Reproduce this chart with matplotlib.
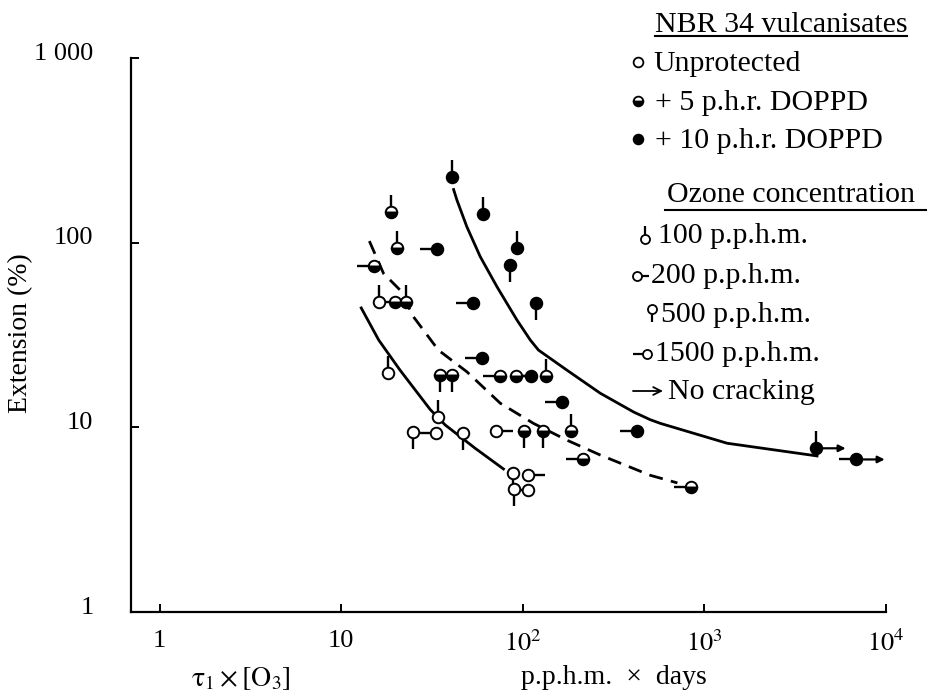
import numpy as np
import matplotlib.pyplot as plt
from matplotlib.path import Path
from matplotlib.markers import MarkerStyle
from matplotlib.transforms import offset_copy, ScaledTranslation

plt.rcParams['font.family'] = ['Liberation Serif', 'DejaVu Serif']
plt.rcParams['mathtext.fontset'] = 'stix'

# tau_1 x [O3] (p.p.h.m. x days) against extension (%)
pt_x = [40.8, 18.8, 60.4, 20.4, 33.6, 93.0, 15.2, 85.3, 16.1, 19.9,
        22.8, 53.2, 117.7, 59.6, 18.0, 34.8, 40.8, 74.7, 92.0, 111.0,
        134.6, 164.0, 34.1, 24.8, 33.4, 46.8, 71.5, 102.0, 129.0, 184.5,
        426.0, 215.0, 88.3, 107.0, 89.0, 107.0, 847.0, 4140.0, 6790.0]
pt_y = [227, 147, 143, 94, 92, 94, 75, 75.7, 47.5, 47.5,
        47.5, 46.9, 46.9, 23.6, 19.6, 19.2, 19.2, 19.0, 19.0, 19.0,
        19.0, 13.8, 11.4, 9.47, 9.27, 9.27, 9.6, 9.6, 9.6, 9.6,
        9.6, 6.7, 5.63, 5.52, 4.62, 4.58, 4.77, 7.7, 6.7]
# DOPPD content, p.h.r.
pt_phr = [10, 5, 10, 5, 10, 10, 5, 10, 0, 5,
          5, 10, 10, 10, 0, 5, 5, 5, 5, 10,
          5, 10, 0, 0, 0, 0, 0, 5, 5, 5,
          10, 5, 0, 0, 0, 0, 5, 10, 10]
# ozone concentration, p.p.h.m.
pt_ozone = [100, 100, 100, 100, 1500, 100, 1500, 500, 100, 1500,
            100, 1500, 500, 1500, 100, 500, 500, 1500, 200, 1500,
            100, 1500, 100, 500, 1500, 500, 200, 500, 500, 100,
            1500, 1500, 500, 200, 500, 1500, 1500, 100, 1500]
no_crack = [False] * 37 + [True, True]

# fitted curves
unprot_x = [12.9, 16.1, 21.1, 30.9, 37.4, 54.7, 78.3]
unprot_y = [44.3, 29.7, 20.4, 12.5, 10.3, 7.7, 5.95]
phr5_x = [14.3, 17.1, 21.1, 25.0, 34.3, 49.2, 75.2, 114.6, 176, 267, 503, 710]
phr5_y = [102, 68.2, 55.4, 39.7, 26.2, 20.0, 13.5, 10.5, 8.5, 7.08, 5.5, 5.0]
phr10_x = [41.6, 43.4, 49.2, 58.3, 72.1, 92.9, 110, 122, 175, 267, 408,
           503, 573, 1334, 4170]
phr10_y = [194, 170, 122, 84, 57.7, 38.1, 29.7, 26.2, 20.4, 15.3, 12.1,
           11.0, 10.5, 8.2, 7.0]

# tail direction for each ozone level
tail_dir = {100: (0, 1), 200: (1, 0), 500: (0, -1), 1500: (-1, 0)}
tails = {k: MarkerStyle(Path([(0, 0), v])) for k, v in tail_dir.items()}


def draw_point(a, x, y, phr, ozone, size, tail, lw, **kw):
    if tail:
        a.plot(x, y, marker=tails[ozone], ms=tail, mec='black', mfc='none',
               mew=lw + 0.3, ls='none', zorder=3, **kw)
    if phr == 0:
        a.plot(x, y, 'o', ms=size, mec='black', mfc='white', mew=lw,
               zorder=4, **kw)
    elif phr == 5:
        a.plot(x, y, 'o', ms=size, mec='black', mfc='black',
               mfcalt='white', fillstyle='bottom', mew=lw, zorder=4, **kw)
    else:
        a.plot(x, y, 'o', ms=size, mec='black', mfc='black', mew=lw,
               zorder=4, **kw)


fig = plt.figure(figsize=(9.28, 6.92), dpi=100)
ax = fig.add_axes([0.1412, 0.1156, 0.8136, 0.8006])
ax.set_xscale('log')
ax.set_yscale('log')
ax.set_xlim(0.697, 1e4)
ax.set_ylim(1, 1000)

ax.plot(unprot_x, unprot_y, color='black', lw=2.0)
ax.plot(phr5_x, phr5_y, color='black', lw=2.0, ls=(0, (5, 3)))
ax.plot(phr10_x, phr10_y, color='black', lw=2.0)

for x, y, p, o, nc in zip(pt_x, pt_y, pt_phr, pt_ozone, no_crack):
    draw_point(ax, x, y, p, o, 8.3, 24.5, 1.4, clip_on=False)
    if nc:
        ax.annotate('', xy=(x, y),
                    xycoords=offset_copy(ax.transData, fig=fig, x=21, units='points'),
                    xytext=(x, y), textcoords='data',
                    arrowprops=dict(arrowstyle='-|>', color='black', lw=1.6,
                                    mutation_scale=10, shrinkA=0, shrinkB=0))

for s in ['top', 'right']:
    ax.spines[s].set_visible(False)
for s in ['left', 'bottom']:
    ax.spines[s].set_linewidth(1.6)

ax.set_xticks([1, 10, 100, 1000, 10000])
ax.set_xticklabels(['1', '10', r'$10^2$', r'$10^3$', r'$10^4$'])
ax.set_yticks([1, 10, 100, 1000])
ax.set_yticklabels(['1', '10', '100', '1 000'])
ax.minorticks_off()
ax.tick_params(direction='in', length=6, width=1.4, labelsize=19)
ax.tick_params(axis='x', pad=13)
ax.tick_params(axis='y', pad=27)
for lab in ax.get_yticklabels():
    lab.set_transform(lab.get_transform() + ScaledTranslation(0, 5 / 72, fig.dpi_scale_trans))

fig.text(21 / 928, 1 - 333 / 692, 'Extension (%)', rotation=90,
         ha='center', va='center', fontsize=20)
fig.text(241 / 928, 1 - 686 / 692, r'$\mathrm{\tau}_1 \times [\mathrm{O}_3]$',
         ha='center', va='baseline', fontsize=20)
fig.text(614 / 928, 1 - 684 / 692, 'p.p.h.m.  \u00d7  days',
         ha='center', va='baseline', fontsize=20)

# key, drawn in pixel units
key = fig.add_axes([0, 0, 1, 1])
key.set_xlim(0, 928)
key.set_ylim(692, 0)
key.axis('off')
fs = 21.5

key.text(655, 32, 'NBR 34 vulcanisates', fontsize=fs, va='baseline')
key.plot([655, 907], [36, 36], color='black', lw=1.5)
key.text(667, 202, 'Ozone concentration', fontsize=fs, va='baseline')
key.plot([665, 927], [210, 210], color='black', lw=1.5)

draw_point(key, 638, 62, 0, 100, 7, 0, 1.3)
key.text(653, 71, 'Unprotected', fontsize=fs, va='baseline')
draw_point(key, 638, 101, 5, 100, 7, 0, 1.3)
key.text(655, 110, '+ 5 p.h.r. DOPPD', fontsize=fs, va='baseline')
draw_point(key, 638, 139, 10, 100, 7, 0, 1.3)
key.text(655, 148, '+ 10 p.h.r. DOPPD', fontsize=fs, va='baseline')

draw_point(key, 645, 239, 0, 100, 6.5, 19, 1.3)
key.text(658, 243, '100 p.p.h.m.', fontsize=fs, va='baseline')
draw_point(key, 637, 276, 0, 200, 6.5, 17, 1.3)
key.text(651, 283, '200 p.p.h.m.', fontsize=fs, va='baseline')
draw_point(key, 652, 309, 0, 500, 6.5, 19, 1.3)
key.text(661, 322, '500 p.p.h.m.', fontsize=fs, va='baseline')
draw_point(key, 647, 354, 0, 1500, 6.5, 20, 1.3)
key.text(655, 361, '1500 p.p.h.m.', fontsize=fs, va='baseline')
key.annotate('', xy=(663, 391), xytext=(633, 391),
             arrowprops=dict(arrowstyle='->', color='black', lw=1.3,
                             mutation_scale=14, shrinkA=0, shrinkB=0))
key.text(668, 399, 'No cracking', fontsize=fs, va='baseline')

fig.savefig('out.png', dpi=100)
